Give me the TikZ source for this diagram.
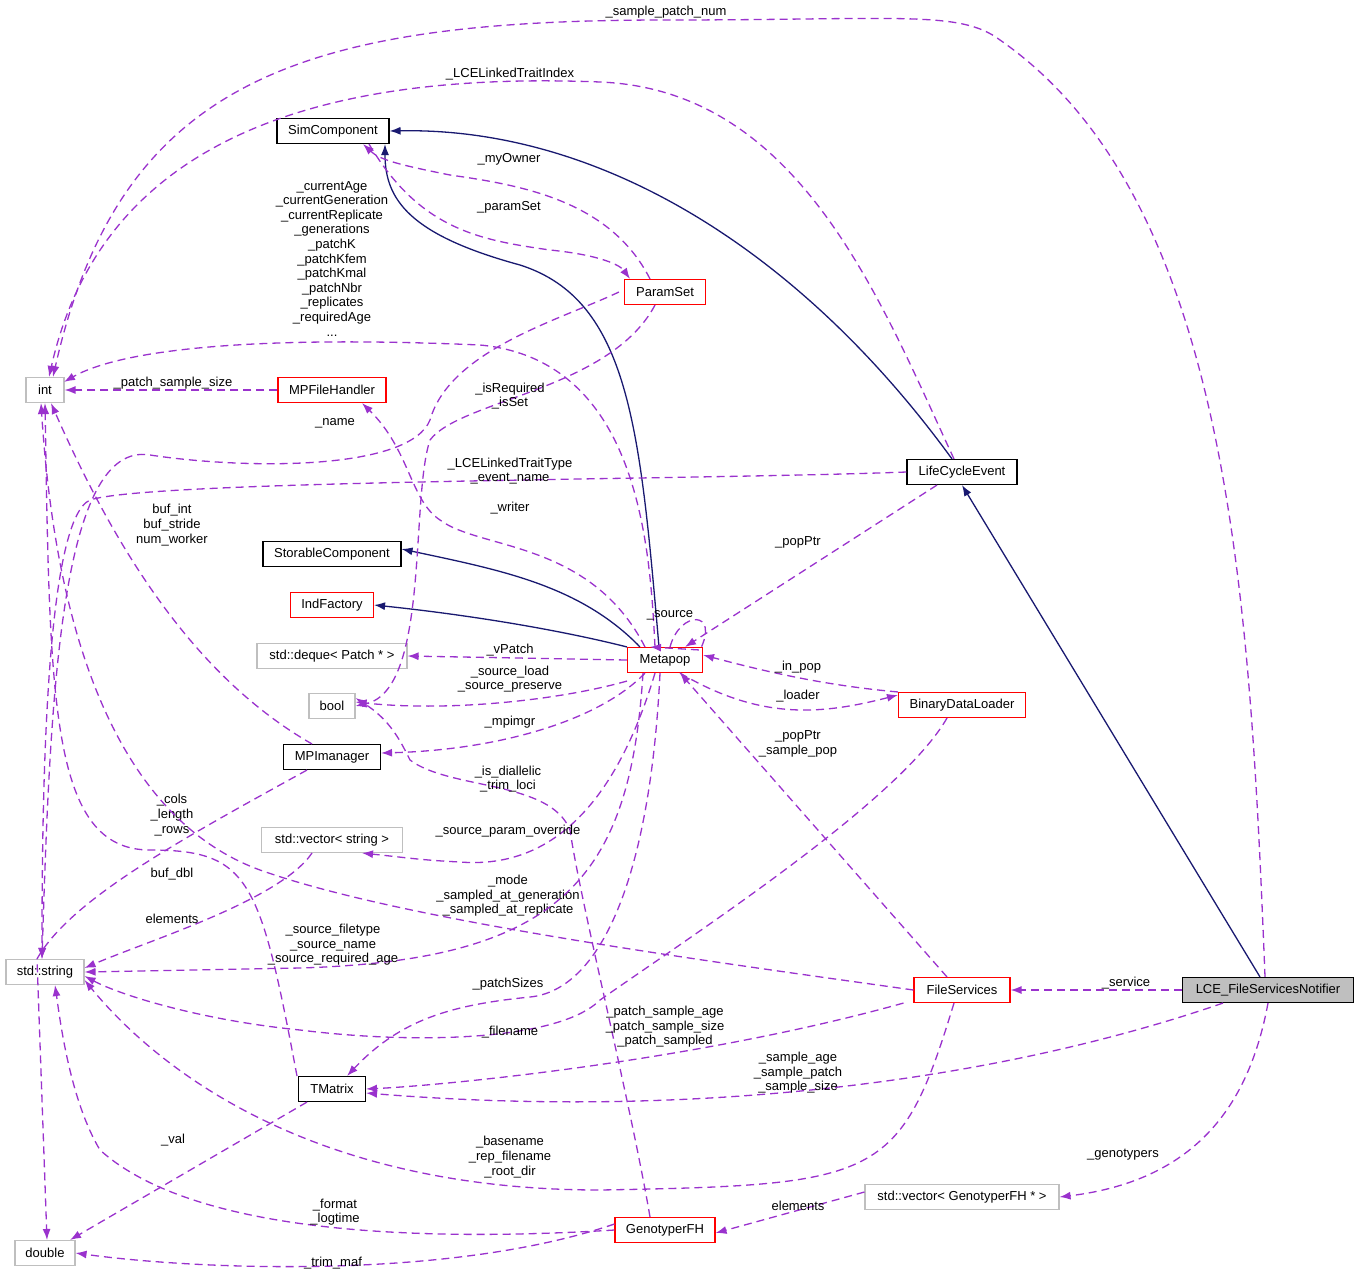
\documentclass[tikz,border=0pt]{standalone}
\usepackage{fontspec}
\setmainfont{Liberation Sans}
\usetikzlibrary{arrows.meta}
\definecolor{navy}{HTML}{191970}
\definecolor{orch}{HTML}{9A32CD}
\definecolor{grayb}{HTML}{BFBFBF}
\begin{document}
\begin{tikzpicture}[x=1pt,y=-1pt,
  font=\fontsize{13}{14.6}\selectfont,
  box/.style={draw, line width=1.1pt, minimum height=25pt, inner xsep=5pt, inner ysep=0pt},
  blk/.style={box, draw=black},
  red/.style={box, draw=red},
  gry/.style={box, draw=grayb},
  inh/.style={draw=navy, line width=1.3pt, -{Latex[length=11pt,width=8pt]}},
  use/.style={draw=orch, line width=1.3pt, dash pattern=on 8pt off 5pt, -{Latex[length=11pt,width=8pt]}},
  lab/.style={align=center, inner sep=0pt}]
\useasboundingbox (0,0) rectangle (1359,1280);
% nodes
\node[blk, minimum width=112pt] (SC) at (333,131) {SimComponent};
\node[red, minimum width=81pt] (PS) at (665,292) {ParamSet};
\node[gry, minimum width=38pt] (int) at (45,390) {int};
\node[red, minimum width=108pt] (MPF) at (332,390) {MPFileHandler};
\node[blk, minimum width=110pt] (LCE) at (962,472) {LifeCycleEvent};
\node[blk, minimum width=138pt] (STC) at (332,554) {StorableComponent};
\node[red, minimum width=83pt] (IF) at (332,605) {IndFactory};
\node[gry, minimum width=150pt] (DQ) at (332,656) {std::deque< Patch * >};
\node[red, minimum width=75pt] (MP) at (665,660) {Metapop};
\node[gry, minimum width=46pt] (bool) at (332,706) {bool};
\node[red, minimum width=127pt] (BDL) at (962,705) {BinaryDataLoader};
\node[blk, minimum width=97pt] (MPI) at (332,757) {MPImanager};
\node[gry, minimum width=141pt] (VS) at (332,840) {std::vector< string >};
\node[gry, minimum width=78pt] (str) at (45,972) {std::string};
\node[red, minimum width=96pt] (FS) at (962,990) {FileServices};
\node[box, fill=grayb, draw=black, minimum width=171pt] (LFN) at (1268,990) {LCE\_FileServicesNotifier};
\node[blk, minimum width=67pt] (TM) at (332,1089) {TMatrix};
\node[gry, minimum width=194pt] (VG) at (962,1197) {std::vector< GenotyperFH * >};
\node[red, minimum width=100pt] (GF) at (665,1230) {GenotyperFH};
\node[gry, minimum width=60pt] (dbl) at (45,1253) {double};
% inheritance
\draw[inh] ([xshift=-10pt]LCE.north) .. controls (800,250) and (600,127) .. (SC.east);
\draw[inh] ([xshift=-6pt]MP.north) .. controls (640,430) and (630,300) .. (520,265) .. controls (410,235) and (385,200) .. ([xshift=52pt]SC.south);
\draw[inh] ([xshift=-25pt]MP.north) .. controls (580,585) and (500,570) .. ([yshift=5pt]STC.east);
\draw[inh] (MP.north west) .. controls (560,630) and (470,615) .. (IF.east);
\draw[inh] ([xshift=-8pt]LFN.north) -- (LCE.south);
% usage
\draw[use] ([xshift=-3pt]LFN.north) .. controls (1250,600) and (1230,200) .. (1000,40) .. controls (960,10) and (900,20) .. (666,20) .. controls (300,20) and (120,80) .. ([xshift=8pt]int.north);
\node[lab] (l1) at (666,12) {\_sample\_patch\_num};
\draw[use] ([xshift=-8pt]LCE.north) .. controls (880,300) and (800,90) .. (600,82) .. controls (300,70) and (100,150) .. ([xshift=4pt]int.north);
\node[lab] (l2) at (510,74) {\_LCELinkedTraitIndex};
\draw[use] ([xshift=-10pt]MP.north) .. controls (650,550) and (640,360) .. (480,345) .. controls (250,335) and (120,350) .. ([xshift=19pt,yshift=-5pt]int.north);
\node[lab, anchor=north] (l3) at (332,181) {\_currentAge\\\_currentGeneration\\\_currentReplicate\\\_generations\\\_patchK\\\_patchKfem\\\_patchKmal\\\_patchNbr\\\_replicates\\\_requiredAge\\...};
\draw[use] (MPF.west) -- (int.east);
\node[lab] (l4) at (173,383) {\_patch\_sample\_size};
\draw[use] ([xshift=-15pt]PS.north) .. controls (610,200) and (520,185) .. (450,175) .. controls (400,165) and (380,160) .. ([xshift=30pt]SC.south);
\node[lab] (l5) at (509,159) {\_myOwner};
\draw[use] ([xshift=36pt]SC.south) .. controls (420,230) and (480,240) .. (550,250) .. controls (600,255) and (620,265) .. ([xshift=-35pt]PS.north);
\node[lab] (l6) at (509,207) {\_paramSet};
\draw[use] ([xshift=-5pt]PS.west) .. controls (560,320) and (450,350) .. (430,420) .. controls (410,470) and (250,470) .. (150,455) .. controls (60,440) and (50,700) .. ([xshift=-3pt]str.north);
\node[lab] (l7) at (335,423) {\_name};
\draw[use] ([xshift=-10pt]PS.south) .. controls (610,390) and (460,400) .. (430,440) .. controls (410,500) and (430,690) .. (bool.east);
\node[lab] (l8) at (510,396) {\_isRequired\\\_isSet};
\draw[use] (LCE.west) .. controls (700,480) and (150,480) .. (90,500) .. controls (45,520) and (42,800) .. ([xshift=-3pt]str.north);
\node[lab] (l9) at (510,471) {\_LCELinkedTraitType\\\_event\_name};
\draw[use] ([xshift=-20pt]MP.north) .. controls (590,540) and (480,550) .. (440,520) .. controls (410,500) and (410,450) .. ([xshift=30pt]MPF.south);
\node[lab] (l10) at (510,508) {\_writer};
\draw[use] ([xshift=5pt]MP.north) .. controls (680,610) and (720,610) .. (700,650) -- ([xshift=-15pt]MP.north);
\node[lab] (l11) at (670,615) {\_source};
\draw[use] ([xshift=-25pt]LCE.south) -- ([xshift=20pt]MP.north);
\node[lab] (l12) at (798,542) {\_popPtr};
\draw[use] ([xshift=-20pt]MPI.north) .. controls (200,680) and (120,560) .. ([xshift=6pt]int.south);
\node[lab] (l13) at (172,525) {buf\_int\\buf\_stride\\num\_worker};
\draw[use] (MP.west) -- (DQ.east);
\node[lab] (l14) at (510,650) {\_vPatch};
\draw[use] ([yshift=-8pt]MP.south west) .. controls (560,700) and (450,712) .. ([yshift=4pt]bool.east);
\node[lab] (l15) at (510,679) {\_source\_load\\\_source\_preserve};
\draw[use] ([xshift=-20pt]MP.south) .. controls (600,720) and (500,750) .. ([yshift=4pt]MPI.east);
\node[lab] (l16) at (510,722) {\_mpimgr};
\draw[use] (BDL.north west) .. controls (820,685) and (760,670) .. ([yshift=5pt]MP.east);
\node[lab] (l17) at (798,667) {\_in\_pop};
\draw[use] ([xshift=15pt]MP.south) .. controls (760,720) and (820,715) .. ([yshift=10pt]BDL.west);
\node[lab] (l18) at (798,696) {\_loader};
\draw[use] ([xshift=-15pt]FS.north) -- ([xshift=15pt]MP.south);
\node[lab] (l19) at (798,744) {\_popPtr\\\_sample\_pop};
\draw[use] ([xshift=-15pt]GF.north) .. controls (630,1100) and (580,900) .. (570,830) .. controls (550,780) and (450,790) .. (410,760) .. controls (400,740) and (390,720) .. ([yshift=8pt]bool.east);
\node[lab] (l20) at (508,779) {\_is\_diallelic\\\_trim\_loci};
\draw[use] ([xshift=-25pt]MPI.south) .. controls (180,840) and (70,900) .. ([xshift=-8pt]str.north) -- ([xshift=2pt]dbl.north);
\node[lab] (l21) at (172,874) {buf\_dbl};
\draw[use] ([xshift=-35pt]TM.north) .. controls (260,880) and (250,850) .. (150,850) .. controls (50,850) and (50,700) .. (int.south);
\node[lab] (l22) at (172,815) {\_cols\\\_length\\\_rows};
\draw[use] ([xshift=-10pt]MP.south) .. controls (620,790) and (560,870) .. (460,862) .. controls (420,860) and (410,858) .. ([xshift=30pt]VS.south);
\node[lab] (l23) at (508,831) {\_source\_param\_override};
\draw[use] (FS.west) .. controls (700,960) and (400,920) .. (260,870) .. controls (150,830) and (60,700) .. ([xshift=-4pt]int.south);
\node[lab] (l24) at (508,896) {\_mode\\\_sampled\_at\_generation\\\_sampled\_at\_replicate};
\draw[use] ([xshift=-20pt]VS.south) .. controls (280,900) and (150,940) .. ([yshift=4pt]str.east);
\node[lab] (l25) at (172,919) {elements};
\draw[use] ([xshift=-22pt]MP.south) .. controls (630,880) and (560,960) .. (300,968) -- ([yshift=0pt]str.east);
\node[lab] (l26) at (333,945) {\_source\_filetype\\\_source\_name\\\_source\_required\_age};
\draw[use] ([xshift=-5pt]MP.south) .. controls (650,880) and (600,990) .. (530,997) .. controls (450,1005) and (400,1020) .. ([xshift=15pt]TM.north);
\node[lab] (l27) at (508,984) {\_patchSizes};
\draw[use] ([xshift=-15pt]BDL.south) .. controls (900,800) and (700,930) .. (600,1000) .. controls (560,1040) and (420,1045) .. (300,1030) .. controls (200,1020) and (120,995) .. ([yshift=-4pt]str.east);
\node[lab] (l28) at (510,1032) {\_filename};
\draw[use] ([xshift=-10pt]FS.south west) .. controls (700,1060) and (450,1085) .. (TM.east);
\node[lab] (l29) at (665,1027) {\_patch\_sample\_age\\\_patch\_sample\_size\\\_patch\_sampled};
\draw[use] ([xshift=-45pt]LFN.south) .. controls (1000,1080) and (700,1120) .. ([yshift=-4pt]TM.east);
\node[lab] (l30) at (798,1073) {\_sample\_age\\\_sample\_patch\\\_sample\_size};
\draw[use] (LFN.west) -- (FS.east);
\node[lab] (l31) at (1126,983) {\_service};
\draw[use] (LFN.south) .. controls (1250,1100) and (1200,1180) .. (VG.east);
\node[lab] (l32) at (1123,1155) {\_genotypers};
\draw[use] ([xshift=-8pt]FS.south) .. controls (900,1180) and (880,1185) .. (600,1190) .. controls (300,1190) and (150,1060) .. ([yshift=-8pt]str.east);
\node[lab] (l33) at (510,1157) {\_basename\\\_rep\_filename\\\_root\_dir};
\draw[use] ([xshift=-25pt]TM.south) -- ([xshift=25pt]dbl.north);
\node[lab] (l34) at (173,1140) {\_val};
\draw[use] (GF.west) .. controls (450,1240) and (200,1240) .. (100,1150) .. controls (70,1100) and (60,1020) .. ([xshift=10pt]str.south);
\node[lab] (l35) at (335,1212) {\_format\\\_logtime};
\draw[use] ([yshift=6pt]GF.west) .. controls (450,1280) and (200,1270) .. (dbl.east);
\node[lab] (l36) at (333,1263) {\_trim\_maf};
\draw[use] ([yshift=5pt]VG.west) -- ([yshift=-3pt]GF.east);
\node[lab] (l37) at (798,1206) {elements};
\end{tikzpicture}
\end{document}
